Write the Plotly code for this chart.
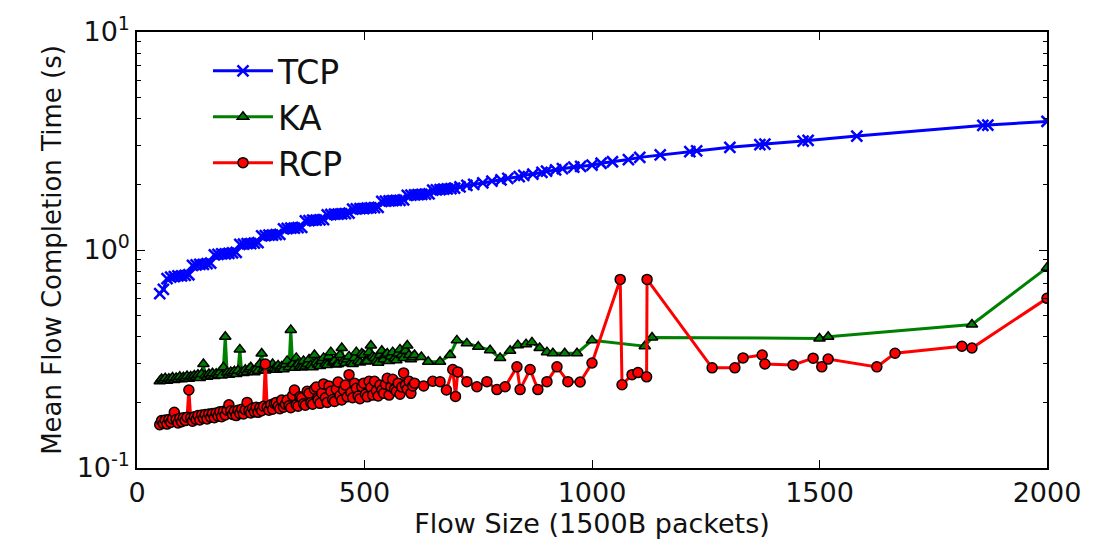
import plotly.graph_objects as go

# ---------------- data ----------------
tcp_x = [50, 58, 66, 74, 82, 90, 98, 106, 114, 122, 130, 138, 146, 154, 162, 170, 178, 186, 194, 202,
         210, 218, 226, 234, 242, 250, 258, 266, 274, 282, 290, 298, 306, 314, 322, 330, 338, 346, 354, 362,
         370, 378, 386, 394, 402, 410, 418, 426, 434, 442, 450, 458, 466, 474, 482, 490, 498, 506, 514, 522,
         530, 538, 546, 554, 562, 570, 578, 586, 594, 602, 610, 618, 626, 634, 642, 650, 658, 666, 674, 682,
         690, 698, 710, 725, 740, 760, 780, 800, 815, 840, 850, 870, 890, 900, 920, 935, 960, 975, 1000, 1020,
         1045, 1080, 1105, 1150, 1215, 1230, 1303, 1369, 1380, 1464, 1475, 1582, 1859, 1870, 2000]
tcp_y = [0.63, 0.66, 0.74, 0.75, 0.755, 0.76, 0.76, 0.765, 0.77, 0.85, 0.855, 0.86, 0.86, 0.865, 0.87, 0.95, 0.955, 0.96, 0.96, 0.965,
         0.97, 0.975, 1.06, 1.065, 1.07, 1.07, 1.075, 1.08, 1.16, 1.165, 1.17, 1.17, 1.175, 1.18, 1.25, 1.255, 1.26, 1.26, 1.265, 1.27,
         1.36, 1.365, 1.37, 1.37, 1.375, 1.38, 1.45, 1.455, 1.46, 1.46, 1.465, 1.47, 1.475, 1.54, 1.545, 1.55, 1.55, 1.555, 1.56, 1.565,
         1.57, 1.67, 1.675, 1.68, 1.685, 1.69, 1.69, 1.70, 1.78, 1.785, 1.79, 1.795, 1.80, 1.805, 1.81, 1.88, 1.885, 1.89, 1.90, 1.905,
         1.91, 1.92, 1.95, 1.98, 2.0, 2.03, 2.07, 2.1, 2.13, 2.17, 2.2, 2.23, 2.27, 2.3, 2.33, 2.36, 2.4, 2.42, 2.45, 2.5,
         2.54, 2.6, 2.66, 2.73, 2.83, 2.85, 2.96, 3.04, 3.06, 3.16, 3.18, 3.33, 3.73, 3.74, 3.89]

# flow sizes of the dense part (small flows are sampled every 4 packets)
dense_x = list(range(50, 611, 4))

ka_dense_y = [
    0.250, 0.256, 0.252, 0.258, 0.251, 0.257, 0.254, 0.260, 0.253, 0.259, 0.256, 0.262, 0.255, 0.261, 0.258, 0.264, 0.257, 0.263, 0.260, 0.266,
    0.262, 0.268, 0.259, 0.270, 0.300, 0.266, 0.262, 0.270, 0.265, 0.272, 0.264, 0.271, 0.268, 0.275, 0.266, 0.290, 0.400, 0.274, 0.268, 0.276,
    0.272, 0.278, 0.270, 0.280, 0.350, 0.276, 0.273, 0.282, 0.276, 0.284, 0.290, 0.279, 0.275, 0.285, 0.279, 0.300, 0.335, 0.284, 0.280, 0.290,
    0.283, 0.288, 0.300, 0.286, 0.282, 0.295, 0.286, 0.292, 0.284, 0.298, 0.310, 0.290, 0.430, 0.300, 0.288, 0.320, 0.300, 0.292, 0.289, 0.310,
    0.292, 0.300, 0.315, 0.296, 0.290, 0.330, 0.305, 0.298, 0.294, 0.310, 0.320, 0.300, 0.297, 0.325, 0.340, 0.305, 0.310, 0.298, 0.300, 0.330,
    0.355, 0.310, 0.303, 0.315, 0.325, 0.305, 0.300, 0.320, 0.340, 0.310, 0.305, 0.335, 0.330, 0.308, 0.310, 0.340, 0.365, 0.325, 0.320, 0.310,
    0.304, 0.330, 0.345, 0.315, 0.330, 0.335, 0.310, 0.325, 0.340, 0.318, 0.312, 0.335, 0.350, 0.330, 0.320, 0.345, 0.365, 0.330, 0.315, 0.322,
    0.330]
ka_tail_x = [625, 640, 666, 688, 703, 725, 750, 776, 798, 820, 837, 855, 868, 885, 901, 914, 940, 967, 1000, 1116,
             1132, 1500, 1519, 1835, 2000]
ka_tail_y = [0.323, 0.307, 0.307, 0.330, 0.385, 0.373, 0.360, 0.347, 0.320, 0.345, 0.366, 0.370, 0.377, 0.355, 0.340, 0.336, 0.336, 0.336, 0.385, 0.362,
             0.397, 0.393, 0.400, 0.455, 0.830]

rcp_dense_y = [
    0.158, 0.165, 0.160, 0.166, 0.159, 0.167, 0.162, 0.168, 0.180, 0.167, 0.161, 0.169, 0.163, 0.170, 0.165, 0.171, 0.228, 0.170, 0.164, 0.172,
    0.167, 0.174, 0.166, 0.175, 0.169, 0.176, 0.168, 0.177, 0.171, 0.178, 0.170, 0.179, 0.173, 0.181, 0.172, 0.182, 0.175, 0.184, 0.195, 0.183,
    0.176, 0.182, 0.174, 0.184, 0.178, 0.186, 0.177, 0.185, 0.200, 0.183, 0.179, 0.188, 0.181, 0.190, 0.180, 0.189, 0.183, 0.192, 0.300, 0.190,
    0.184, 0.195, 0.186, 0.198, 0.200, 0.192, 0.187, 0.205, 0.190, 0.196, 0.205, 0.193, 0.189, 0.215, 0.228, 0.195, 0.192, 0.212, 0.210, 0.197,
    0.194, 0.225, 0.220, 0.199, 0.196, 0.230, 0.235, 0.205, 0.198, 0.220, 0.243, 0.210, 0.200, 0.238, 0.225, 0.206, 0.202, 0.230, 0.248, 0.215,
    0.205, 0.228, 0.240, 0.212, 0.268, 0.222, 0.210, 0.245, 0.232, 0.214, 0.208, 0.236, 0.245, 0.218, 0.212, 0.250, 0.234, 0.216, 0.250, 0.226,
    0.214, 0.240, 0.228, 0.220, 0.242, 0.258, 0.216, 0.236, 0.255, 0.230, 0.225, 0.245, 0.218, 0.235, 0.273, 0.240, 0.230, 0.250, 0.220, 0.238,
    0.245]
rcp_tail_x = [630, 650, 666, 680, 694, 700, 705, 725, 747, 769, 791, 809, 835, 842, 864, 881, 901, 923, 947, 974,
              1000, 1062, 1066, 1088, 1101, 1120, 1121, 1264, 1314, 1332, 1374, 1380, 1442, 1486, 1505, 1519, 1626, 1666, 1813, 1835,
              2000]
rcp_tail_y = [0.238, 0.250, 0.249, 0.228, 0.283, 0.213, 0.276, 0.249, 0.236, 0.249, 0.229, 0.236, 0.291, 0.229, 0.283, 0.229, 0.249, 0.291, 0.249, 0.248,
              0.303, 0.733, 0.241, 0.268, 0.274, 0.262, 0.733, 0.288, 0.288, 0.320, 0.330, 0.300, 0.297, 0.319, 0.291, 0.316, 0.291, 0.336, 0.362, 0.355,
              0.600]

ka_x = dense_x + ka_tail_x
ka_y = ka_dense_y + ka_tail_y
rcp_x = dense_x + rcp_tail_x
rcp_y = rcp_dense_y + rcp_tail_y
n = min(len(ka_x), len(ka_y)); ka_x, ka_y = ka_x[:n], ka_y[:n]
n = min(len(rcp_x), len(rcp_y)); rcp_x, rcp_y = rcp_x[:n], rcp_y[:n]

series_names = ["TCP", "KA", "RCP"]
x_ticks = [0, 500, 1000, 1500, 2000]
y_ticks = [0.1, 1, 10]
y_tick_text = ["10<sup>-1</sup>", "10<sup>0</sup>", "10<sup>1</sup>"]
y_minor = [0.2, 0.3, 0.4, 0.5, 0.6, 0.7, 0.8, 0.9, 2, 3, 4, 5, 6, 7, 8, 9]

FONT = "DejaVu Sans"

fig = go.Figure()
fig.add_trace(go.Scatter(
    x=tcp_x, y=tcp_y, name=series_names[0], mode="lines+markers",
    line=dict(color="#0000ff", width=3),
    marker=dict(symbol="x-thin", size=11, color="#0000ff", line=dict(color="#0000ff", width=2.5)),
))
fig.add_trace(go.Scatter(
    x=ka_x, y=ka_y, name=series_names[1], mode="lines+markers",
    line=dict(color="#008000", width=3),
    marker=dict(symbol="triangle-up", size=10, color="#008000", line=dict(color="#000000", width=1.5)),
))
fig.add_trace(go.Scatter(
    x=rcp_x, y=rcp_y, name=series_names[2], mode="lines+markers",
    line=dict(color="#ff0000", width=3),
    marker=dict(symbol="circle", size=10, color="#ff0000", line=dict(color="#000000", width=1.5)),
))

fig.update_layout(
    width=1093, height=543,
    margin=dict(l=137, r=46, t=25, b=72),
    paper_bgcolor="white", plot_bgcolor="white",
    font=dict(family=FONT, color="#111111", size=26),
    showlegend=True,
    legend=dict(
        x=0.078, y=0.975, xanchor="left", yanchor="top",
        bgcolor="rgba(255,255,255,0)", borderwidth=0,
        font=dict(family=FONT, size=33, color="#111111"),
        itemwidth=60, tracegroupgap=0,
    ),
)
fig.update_xaxes(
    range=[0, 2000], tickvals=x_ticks, ticks="inside", ticklen=8, tickwidth=1, tickcolor="black",
    showline=True, linecolor="black", linewidth=1.5, mirror="allticks", showgrid=False, zeroline=False,
    tickfont=dict(family=FONT, size=27, color="#111111"),
    title=dict(text="Flow Size (1500B packets)", font=dict(family=FONT, size=27, color="#111111"), standoff=4),
)
fig.update_yaxes(
    type="log", range=[-1, 1], tickvals=y_ticks, ticktext=y_tick_text,
    ticks="inside", ticklen=8, tickwidth=1, tickcolor="black",
    minor=dict(tickvals=y_minor, ticks="inside", ticklen=4, tickcolor="black", showgrid=False),
    showline=True, linecolor="black", linewidth=1.5, mirror="allticks", showgrid=False, zeroline=False,
    tickfont=dict(family=FONT, size=27, color="#111111"),
    title=dict(text="Mean Flow Completion Time (s)", font=dict(family=FONT, size=26, color="#111111"), standoff=8),
)

fig.write_html("out.html")
